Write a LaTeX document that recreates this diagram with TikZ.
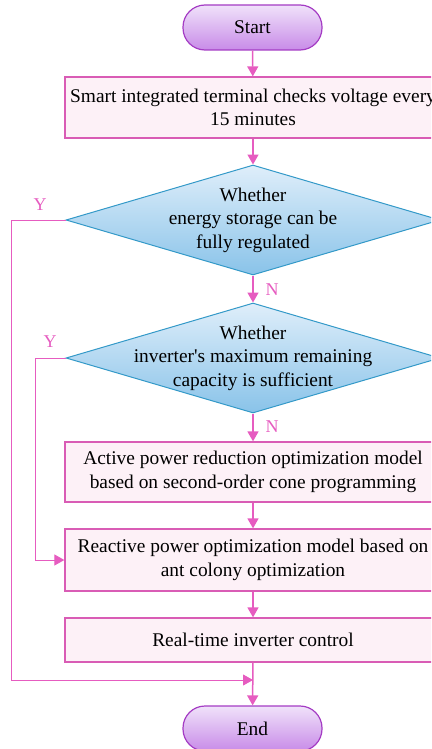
\documentclass[tikz,border=0pt]{standalone}
\usepackage{fontspec}
\setmainfont{Liberation Serif}
\usepackage{tikz}
\usepackage{xcolor}
\usetikzlibrary{shapes.geometric,arrows.meta}

\definecolor{flowpink}{HTML}{E65CC0}
\definecolor{boxfill}{HTML}{FDF1F7}
\definecolor{boxedge}{HTML}{D95CB5}
\definecolor{termtop}{HTML}{F0E2FA}
\definecolor{termbot}{HTML}{C88BE8}
\definecolor{termedge}{HTML}{A43CC4}
\definecolor{dectop}{HTML}{DFEEFA}
\definecolor{decbot}{HTML}{89C3E9}
\definecolor{decedge}{HTML}{3399C8}

\begin{document}
\begin{tikzpicture}[x=1pt, y=-1pt,
            block/.style={rectangle, draw=boxedge, fill=boxfill, line width=1.3pt, minimum width=376pt, inner sep=0pt, align=center, font=\fontsize{19.4}{23.5}\selectfont},
            terminal/.style={rectangle, rounded corners=22pt, draw=termedge, line width=1.2pt, top color=termtop, bottom color=termbot, minimum width=139pt, minimum height=45pt, font=\fontsize{19.4}{23.5}\selectfont},
            decision/.style={diamond, draw=decedge, line width=1pt, top color=dectop, bottom color=decbot, minimum width=374pt, minimum height=110pt, inner sep=0pt},
            dectext/.style={align=center, inner sep=0pt, font=\fontsize{19.4}{23.5}\selectfont},
            arrow/.style={line width=1.5pt, draw=flowpink, -{Triangle[length=10pt,width=11pt]}},
            loopline/.style={line width=1pt, draw=flowpink, -{Triangle[length=10pt,width=11pt]}},
            answer/.style={text=flowpink, inner sep=0pt, font=\fontsize{18}{20}\selectfont}
        ]
            \useasboundingbox (0,0) rectangle (431,749);
            \clip (0,0) rectangle (431,749);

            % Terminals
            \node[terminal] (start) at (252.5,27.5) {Start};
            \node[terminal] (end) at (252.5,728.5) {End};

            % Voltage check
            \node[block, minimum height=61pt] (check) at (253,107.5) {Smart integrated terminal checks voltage every\\15 minutes};

            % Decisions
            \node[decision] (storage) at (253,220) {};
            \node[dectext] (storage_text) at (storage.center) {Whether\\energy storage can be\\fully regulated};
            \node[decision] (capacity) at (253,358) {};
            \node[dectext] (capacity_text) at (capacity.center) {Whether\\inverter\textquotesingle s maximum remaining\\capacity is sufficient};

            % Optimization models
            \node[block, minimum height=60pt] (active) at (253,472) {Active power reduction optimization model\\based on second-order cone programming};
            \node[block, minimum height=62pt] (reactive) at (253,560) {Reactive power optimization model based on\\ant colony optimization};
            \node[block, minimum height=44pt] (control) at (253,640) {Real-time inverter control};

            % Yes / No labels
            \node[answer] (y_storage) at (40,205) {Y};
            \node[answer] (n_storage) at (272,290) {N};
            \node[answer] (y_capacity) at (50,342) {Y};
            \node[answer] (n_capacity) at (272,427) {N};

            \coordinate (merge) at (253,680);
            \coordinate (bend_storage) at (11,220);
            \coordinate (bend_capacity) at (35,358);

            % Main flow
            \draw[arrow] (start) -- (check);
            \draw[arrow] (check) -- (storage.north);
            \draw[arrow] (storage.south) -- (capacity.north);
            \draw[arrow] (capacity.south) -- (active);
            \draw[arrow] (active) -- (reactive);
            \draw[arrow] (reactive) -- (control);
            \draw[arrow] (control) -- (end);

            % Y branches
            \draw[loopline] (storage.west) -- (bend_storage) |- (merge);
            \draw[loopline] (capacity.west) -- (bend_capacity) |- (reactive.west);

        \end{tikzpicture}
\end{document}
